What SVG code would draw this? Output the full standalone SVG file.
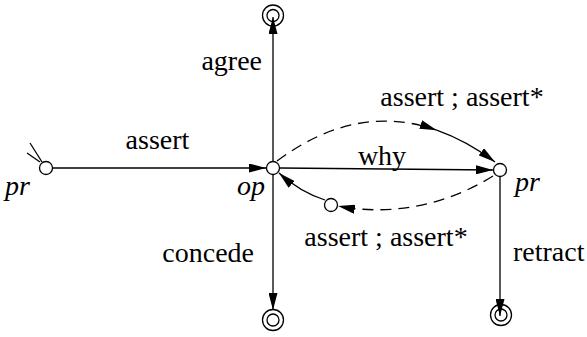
<svg xmlns="http://www.w3.org/2000/svg" width="587" height="337" viewBox="0 0 587 337">
<style>
.st{fill:#fff;stroke:#000;stroke-width:1.3}
.ln{fill:none;stroke:#000;stroke-width:1.3}
.ds{stroke-dasharray:11 7}
.lb{font-size:28px;fill:#000}
.it{font-style:italic}
</style>
<defs>
<marker id="ah" markerUnits="userSpaceOnUse" markerWidth="17" markerHeight="9" viewBox="0 0 17 9" refX="17" refY="4.5" orient="auto">
<path d="M0,0 L17,4.5 L0,9 z" fill="#000"/>
</marker>
</defs>
<rect width="587" height="337" fill="#fff"/>
<g id="connectors">
<line class="ln" x1="30" y1="143" x2="42" y2="162"/>
<line class="ln" x1="27" y1="153" x2="40" y2="162"/>
<line class="ln" x1="53" y1="168" x2="266" y2="168" marker-end="url(#ah)"/>
<line class="ln" x1="273" y1="161" x2="273" y2="17" marker-end="url(#ah)"/>
<line class="ln" x1="273" y1="175" x2="273" y2="310" marker-end="url(#ah)"/>
<line class="ln" x1="280" y1="168" x2="493" y2="170" marker-end="url(#ah)"/>
<line class="ln" x1="500" y1="177" x2="500" y2="316" marker-end="url(#ah)"/>
<path class="ln ds" d="M277,161 Q356.6,101.9 436.7,130.2" marker-end="url(#ah)"/>
<path class="ln" d="M436.7,130.2 Q466.3,140.6 495,162" marker-end="url(#ah)"/>
<path class="ln ds" d="M493,176 C450,203 395,217 338,206" marker-end="url(#ah)"/>
<path class="ln" d="M325,200 Q300,192 279,173" marker-end="url(#ah)"/>
</g>
<g id="pr_start"><circle class="st" cx="46" cy="168" r="6.5"/></g>
<g id="op"><circle class="st" cx="273" cy="168" r="6.5"/></g>
<g id="pr_right"><circle class="st" cx="500" cy="170" r="6.5"/></g>
<g id="mid"><circle class="st" cx="331" cy="205" r="6.5"/></g>
<g id="final_top"><circle class="ln" cx="273" cy="15.5" r="10.5"/><circle class="ln" cx="273" cy="15.5" r="6"/></g>
<g id="final_bottom"><circle class="st" cx="273" cy="320" r="10.5"/><circle class="ln" cx="273" cy="320" r="6"/></g>
<g id="final_right"><circle class="ln" cx="501" cy="315" r="10.5"/><circle class="ln" cx="501" cy="315" r="6"/></g>
<g id="labels" font-family="'Liberation Serif', 'Times New Roman', 'DejaVu Serif', serif">
<text class="lb" x="157.5" y="149" text-anchor="middle">assert</text>
<text class="lb it" x="5" y="195">pr</text>
<text class="lb it" x="265" y="195" text-anchor="end">op</text>
<text class="lb it" x="515" y="191">pr</text>
<text class="lb" x="382" y="165" text-anchor="middle">why</text>
<text class="lb" x="262" y="70" text-anchor="end">agree</text>
<text class="lb" x="254" y="262" text-anchor="end">concede</text>
<text class="lb" x="513" y="261">retract</text>
<text class="lb" x="462" y="106" text-anchor="middle">assert ; assert*</text>
<text class="lb" x="386" y="246" text-anchor="middle">assert ; assert*</text>
</g>
</svg>
